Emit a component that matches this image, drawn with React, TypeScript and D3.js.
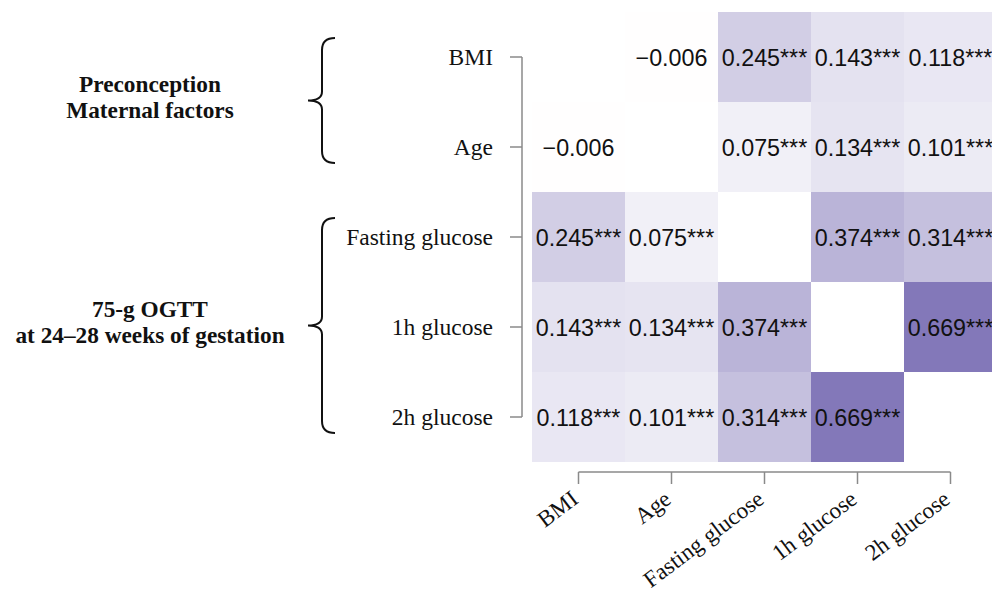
import React from "react";
import * as d3 from "d3";

const variables = ["BMI", "Age", "Fasting glucose", "1h glucose", "2h glucose"];
const corrBMI = [1, -0.006, 0.245, 0.143, 0.118];
const corrAge = [-0.006, 1, 0.075, 0.134, 0.101];
const corrFasting = [0.245, 0.075, 1, 0.374, 0.314];
const corr1h = [0.143, 0.134, 0.374, 1, 0.669];
const corr2h = [0.118, 0.101, 0.314, 0.669, 1];
const sigBMI = ["", "", "***", "***", "***"];
const sigAge = ["", "", "***", "***", "***"];
const sigFasting = ["***", "***", "", "***", "***"];
const sig1h = ["***", "***", "***", "", "***"];
const sig2h = ["***", "***", "***", "***", ""];
const groups = [
  { lines: ["Preconception", "Maternal factors"], from: "BMI", to: "Age" },
  { lines: ["75-g OGTT", "at 24\u201328 weeks of gestation"], from: "Fasting glucose", to: "2h glucose" },
];

const W = 992;
const H = 595;

function fmt(v: number) {
  const s = Math.abs(v).toFixed(3);
  return v < 0 ? "\u2212" + s : s;
}

export default function App() {
  const matrix = [corrBMI, corrAge, corrFasting, corr1h, corr2h];
  const sigs = [sigBMI, sigAge, sigFasting, sig1h, sig2h];
  const x = d3.scaleBand<string>().domain(variables).range([532, 997]);
  const y = d3.scaleBand<string>().domain(variables).range([12, 462]);
  const color = d3
    .scaleLinear<string>()
    .domain([-0.7, 0, 0.7])
    .range(["#c9b27a", "#ffffff", "#7d72b6"])
    .clamp(true);

  const serif = "'Liberation Serif', 'Times New Roman', serif";
  const sans = "'Liberation Sans', Arial, sans-serif";
  const axisColor = "#8a8a8a";

  const cx = (v: string) => (x(v) as number) + x.bandwidth() / 2;
  const cy = (v: string) => (y(v) as number) + y.bandwidth() / 2;

  const yAxisX = 522;
  const xAxisY = 472;

  return (
    <svg
      width={W}
      height={H}
      style={{ position: "absolute", left: 0, top: 0, background: "#fff" }}
    >
      {/* cells */}
      {matrix.map((row, i) =>
        row.map((v, j) => {
          const rv = variables[i];
          const cv = variables[j];
          const diag = i === j;
          return (
            <g key={`${i}-${j}`}>
              <rect
                x={x(cv)}
                y={y(rv)}
                width={x.bandwidth()}
                height={y.bandwidth()}
                fill={diag ? "#ffffff" : color(v)}
              />
              {!diag && (
                <text
                  x={cx(cv)}
                  y={cy(rv) + 8.5}
                  textAnchor="middle"
                  fontFamily={sans}
                  fontSize={23.3}
                  fill="#111"
                >
                  {fmt(v) + sigs[i][j]}
                </text>
              )}
            </g>
          );
        })
      )}

      {/* y axis */}
      <line
        x1={yAxisX}
        x2={yAxisX}
        y1={cy(variables[0])}
        y2={cy(variables[variables.length - 1])}
        stroke={axisColor}
        strokeWidth={1.5}
      />
      {variables.map((v) => (
        <g key={"yt" + v}>
          <line x1={yAxisX - 12} x2={yAxisX} y1={cy(v)} y2={cy(v)} stroke={axisColor} strokeWidth={1.5} />
          <text
            x={yAxisX - 29}
            y={cy(v) + 7.5}
            textAnchor="end"
            fontFamily={serif}
            fontSize={23.5}
            fill="#111"
          >
            {v}
          </text>
        </g>
      ))}

      {/* x axis */}
      <line
        x1={cx(variables[0])}
        x2={cx(variables[variables.length - 1])}
        y1={xAxisY}
        y2={xAxisY}
        stroke={axisColor}
        strokeWidth={1.5}
      />
      {variables.map((v) => (
        <g key={"xt" + v}>
          <line x1={cx(v)} x2={cx(v)} y1={xAxisY} y2={xAxisY + 12} stroke={axisColor} strokeWidth={1.5} />
          <text
            transform={`translate(${cx(v) + 1},${xAxisY + 30}) rotate(-37)`}
            textAnchor="end"
            fontFamily={serif}
            fontSize={23}
            fill="#111"
          >
            {v}
          </text>
        </g>
      ))}

      {/* group braces and labels */}
      {groups.map((g, gi) => {
        const top = (y(g.from) as number) + 26;
        const bot = (y(g.to) as number) + y.bandwidth() - 29;
        const mid = (top + bot) / 2;
        const bx = 322;
        const path = `M${bx + 13},${top} Q${bx},${top} ${bx},${top + 12} L${bx},${mid - 9} Q${bx},${mid} ${bx - 14},${mid} Q${bx},${mid} ${bx},${mid + 9} L${bx},${bot - 12} Q${bx},${bot} ${bx + 13},${bot}`;
        return (
          <g key={"grp" + gi}>
            <path d={path} fill="none" stroke="#111" strokeWidth={2} />
            {g.lines.map((ln, li) => (
              <text
                key={li}
                x={150}
                y={mid - 9 + li * 26 - (g.lines.length - 1) * 13 + 13}
                textAnchor="middle"
                fontFamily={serif}
                fontWeight="bold"
                fontSize={23.3}
                fill="#111"
              >
                {ln}
              </text>
            ))}
          </g>
        );
      })}
    </svg>
  );
}
